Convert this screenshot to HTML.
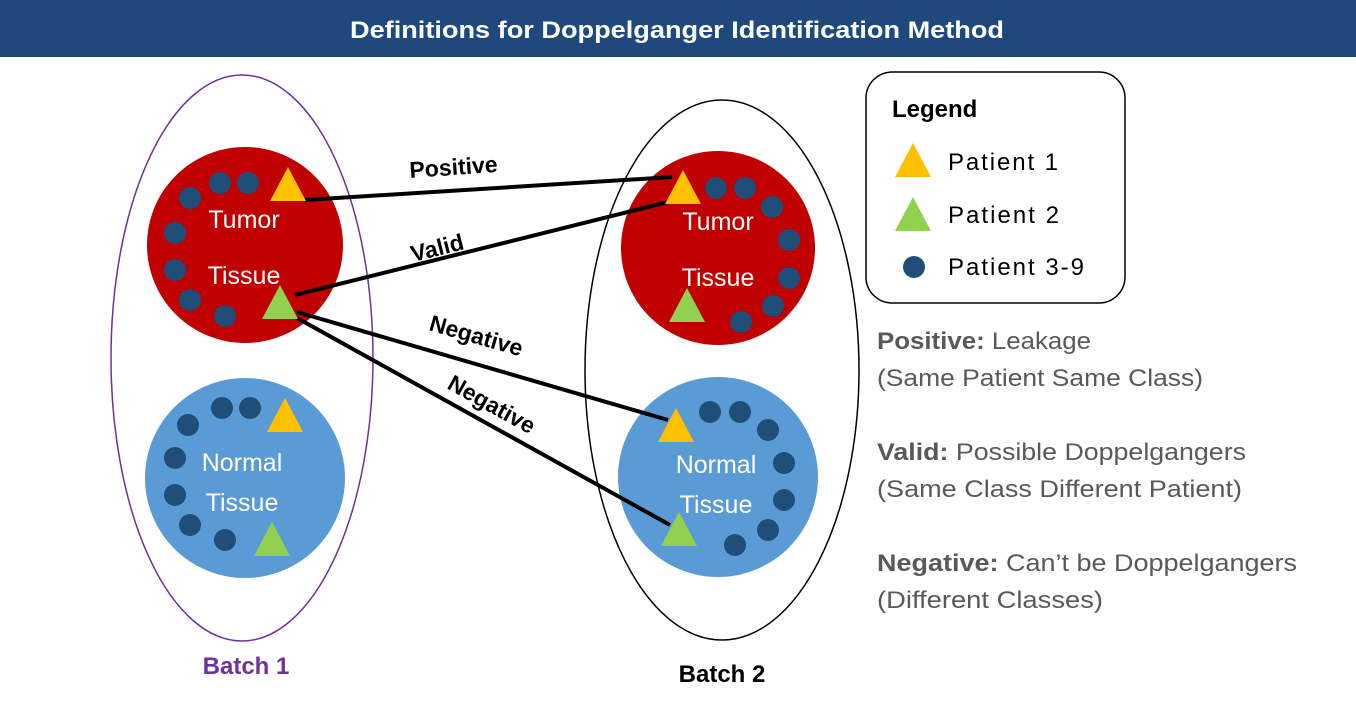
<!DOCTYPE html>
<html><head><meta charset="utf-8"><style>
body{margin:0;width:1356px;height:710px;background:#fff;overflow:hidden;font-family:"Liberation Sans",sans-serif}
</style></head><body>
<svg width="1356" height="710" viewBox="0 0 1356 710" style="font-family:'Liberation Sans',sans-serif">
<rect x="0" y="0" width="1356" height="57" fill="#1F497D"/>
<text x="350" y="38" fill="#fff" font-size="24" font-weight="bold" textLength="654" lengthAdjust="spacingAndGlyphs">Definitions for Doppelganger Identification Method</text>

<ellipse cx="242" cy="358" rx="131" ry="283" fill="none" stroke="#7030A0" stroke-width="1.5"/>
<ellipse cx="722" cy="370" rx="137" ry="270" fill="none" stroke="#000" stroke-width="1.5"/>
<text x="246" y="674" fill="#7030A0" font-size="24" font-weight="bold" text-anchor="middle">Batch 1</text>
<text x="722" y="682" fill="#000" font-size="24" font-weight="bold" text-anchor="middle">Batch 2</text>

<circle cx="245" cy="245" r="98" fill="#C00000"/>
<circle cx="245" cy="478" r="100" fill="#5B9BD5"/>
<circle cx="718" cy="248" r="97" fill="#C00000"/>
<circle cx="718" cy="477" r="100" fill="#5B9BD5"/>

<g fill="#fff" font-size="25" text-anchor="middle">
<text x="244" y="228">Tumor</text><text x="244" y="284">Tissue</text>
<text x="242" y="471">Normal</text><text x="242" y="511">Tissue</text>
<text x="718" y="230">Tumor</text><text x="718" y="286">Tissue</text>
<text x="716" y="473">Normal</text><text x="716" y="513">Tissue</text>
</g>

<g fill="#1F4E79">
<circle cx="220" cy="183" r="11"/><circle cx="248" cy="183" r="11"/><circle cx="190" cy="198" r="11"/><circle cx="175" cy="233" r="11"/><circle cx="175" cy="270" r="11"/><circle cx="190" cy="300" r="11"/><circle cx="225" cy="316" r="11"/>
<circle cx="222" cy="408" r="11"/><circle cx="250" cy="408" r="11"/><circle cx="188" cy="425" r="11"/><circle cx="175" cy="458" r="11"/><circle cx="175" cy="495" r="11"/><circle cx="190" cy="525" r="11"/><circle cx="225" cy="540" r="11"/>
<circle cx="716" cy="188" r="11"/><circle cx="745" cy="188" r="11"/><circle cx="772" cy="207" r="11"/><circle cx="789" cy="240" r="11"/><circle cx="789" cy="278" r="11"/><circle cx="773" cy="306" r="11"/><circle cx="741" cy="322" r="11"/>
<circle cx="710" cy="412" r="11"/><circle cx="740" cy="412" r="11"/><circle cx="768" cy="430" r="11"/><circle cx="784" cy="463" r="11"/><circle cx="784" cy="500" r="11"/><circle cx="768" cy="530" r="11"/><circle cx="735" cy="545" r="11"/>
</g>

<g stroke="#000" stroke-width="4">
<line x1="305" y1="200" x2="672" y2="177"/>
<line x1="295" y1="295" x2="688" y2="197"/>
<line x1="297" y1="312" x2="668" y2="420"/>
<line x1="297" y1="318" x2="670" y2="525"/>
</g>

<g fill="#FFC000">
<polygon points="288,167 270,201 306,201"/><polygon points="285,398 267,432 303,432"/>
<polygon points="683,170 665,204 701,204"/><polygon points="676,408 658,442 694,442"/>
</g>
<g fill="#92D050">
<polygon points="280,285 262,319 298,319"/><polygon points="272,522 254,556 290,556"/>
<polygon points="687,288 669,322 705,322"/><polygon points="679,512 661,546 697,546"/>
</g>

<g font-size="23" font-weight="bold" fill="#000">
<text transform="translate(410,178) rotate(-4)">Positive</text>
<text transform="translate(413,262) rotate(-14)">Valid</text>
<text transform="translate(428,330) rotate(16)">Negative</text>
<text transform="translate(446,388) rotate(29)">Negative</text>
</g>

<rect x="866" y="72" width="259" height="231" rx="26" fill="#fff" stroke="#000" stroke-width="1.5"/>
<text x="892" y="117" font-size="24" font-weight="bold">Legend</text>
<polygon points="913,143 895,177 931,177" fill="#FFC000"/>
<text x="948" y="170" font-size="24" textLength="110">Patient 1</text>
<polygon points="913,197 895,231 931,231" fill="#92D050"/>
<text x="948" y="223" font-size="24" textLength="111">Patient 2</text>
<circle cx="914" cy="267" r="11" fill="#1F4E79"/>
<text x="948" y="275" font-size="24" textLength="136">Patient 3-9</text>

<g font-size="24" fill="#595959" lengthAdjust="spacingAndGlyphs">
<text x="877" y="349" textLength="214" lengthAdjust="spacingAndGlyphs"><tspan font-weight="bold">Positive:</tspan> Leakage</text>
<text x="877" y="386" textLength="326" lengthAdjust="spacingAndGlyphs">(Same Patient Same Class)</text>
<text x="877" y="460" textLength="369" lengthAdjust="spacingAndGlyphs"><tspan font-weight="bold">Valid:</tspan> Possible Doppelgangers</text>
<text x="877" y="497" textLength="365" lengthAdjust="spacingAndGlyphs">(Same Class Different Patient)</text>
<text x="877" y="571" textLength="420" lengthAdjust="spacingAndGlyphs"><tspan font-weight="bold">Negative:</tspan> Can’t be Doppelgangers</text>
<text x="877" y="608" textLength="226" lengthAdjust="spacingAndGlyphs">(Different Classes)</text>
</g>
</svg>
</body></html>
